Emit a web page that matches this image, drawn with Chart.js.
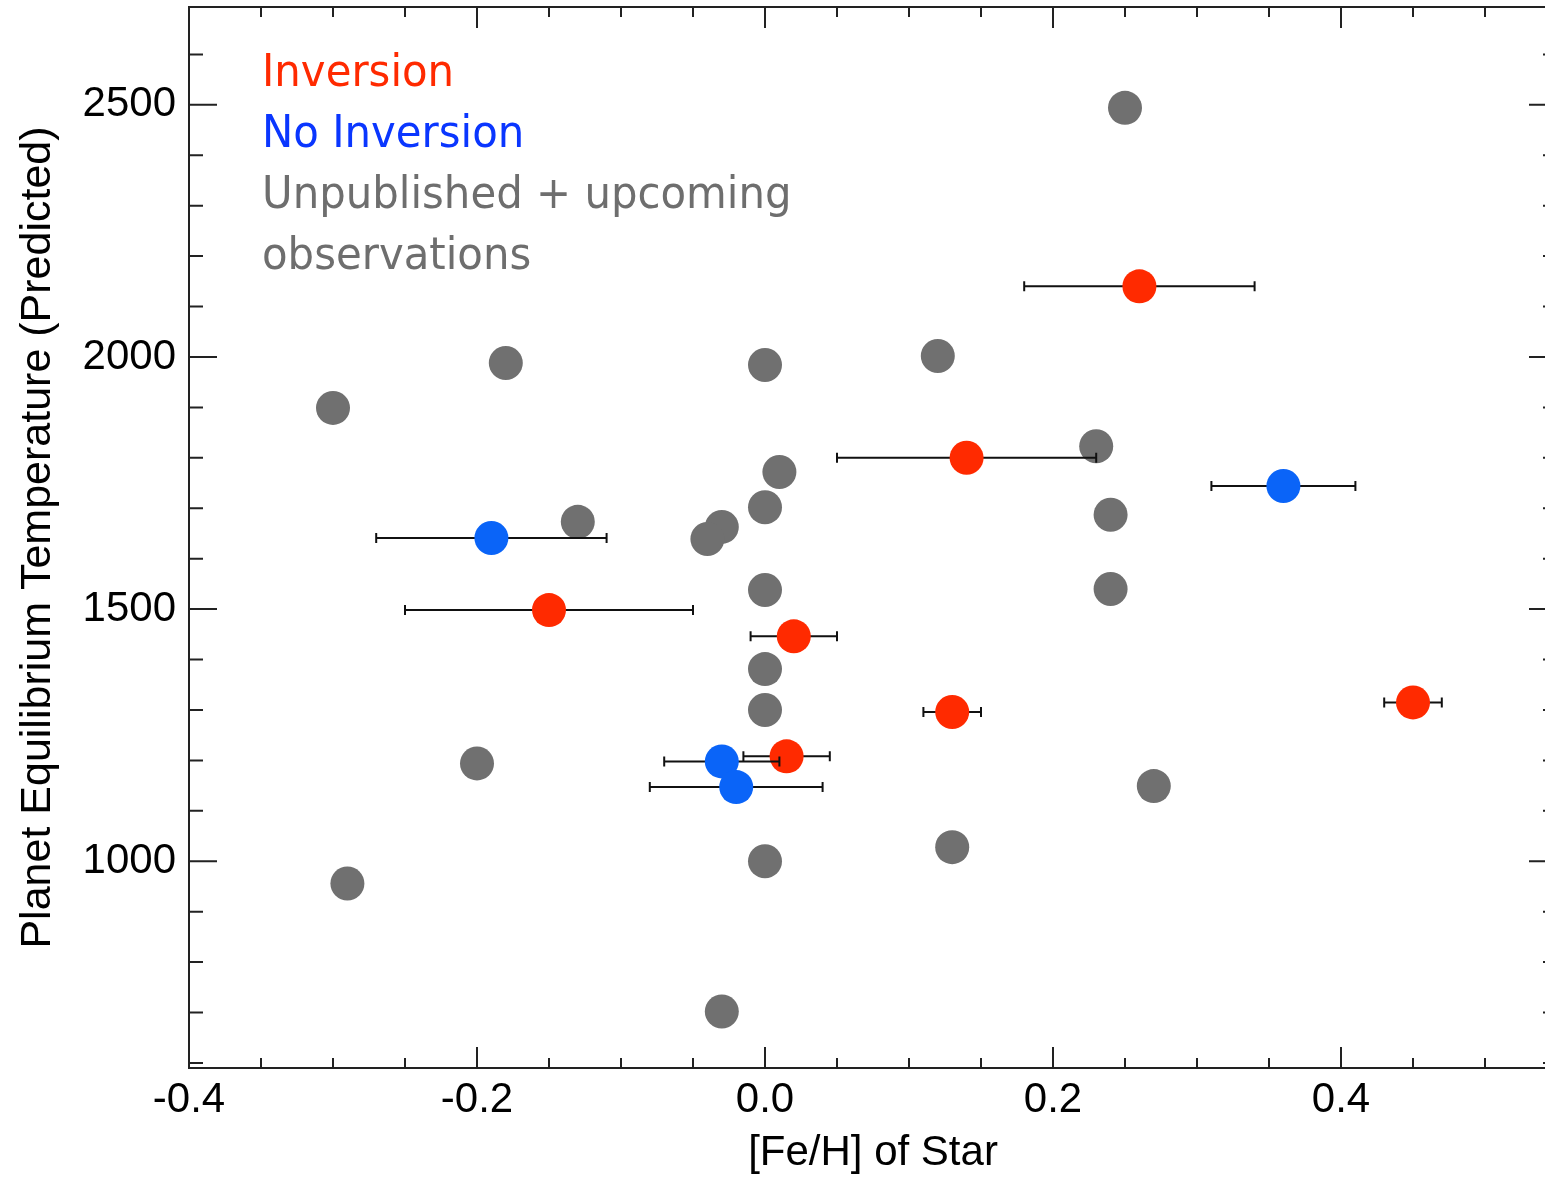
<!DOCTYPE html>
<html>
<head>
<meta charset="utf-8">
<script src="https://cdn.jsdelivr.net/npm/chart.js@4.4.0/dist/chart.umd.min.js"></script>
<style>
  html, body { margin: 0; padding: 0; background: #fff; overflow: hidden; }
  #view { width: 1545px; height: 1179px; overflow: hidden; position: relative; }
  #mainContainer { width: 1562px; height: 1179px; position: absolute; left: 0; top: 0; }
</style>
</head>
<body>
<div id="view"><div id="mainContainer"><canvas id="myChart"></canvas></div></div>
<script>
// planets still waiting on published / upcoming observations
const otherFeH = [0.25, -0.18, 0.0, 0.12, -0.30, 0.23, 0.01, 0.0, -0.13, -0.03, -0.04, 0.24, 0.0, 0.24, 0.0, 0.0, -0.20, 0.27, 0.13, 0.0, -0.29, -0.03];
const otherTeq = [2494, 1988, 1984, 2002, 1899, 1823, 1772, 1702, 1673, 1663, 1639, 1687, 1538, 1540, 1381, 1300, 1194, 1149, 1028, 1000, 956, 702];

// thermal inversion detected
const invFeH = [0.26, 0.14, -0.15, 0.02, 0.13, 0.015, 0.45];
const invTeq = [2140, 1800, 1498, 1446, 1296, 1208, 1315];
const invErr = [0.08, 0.09, 0.10, 0.03, 0.02, 0.03, 0.02];

// no inversion
const noInvFeH = [0.36, -0.19, -0.03, -0.02];
const noInvTeq = [1744, 1641, 1198, 1147];
const noInvErr = [0.05, 0.08, 0.04, 0.06];

const xMajor = [-0.4, -0.2, 0.0, 0.2, 0.4];
const xMinor = [-0.35, -0.3, -0.25, -0.15, -0.1, -0.05, 0.05, 0.1, 0.15, 0.25, 0.3, 0.35, 0.45, 0.5];
const yMajor = [1000, 1500, 2000, 2500];
const yMinor = [600, 700, 800, 900, 1100, 1200, 1300, 1400, 1600, 1700, 1800, 1900, 2100, 2200, 2300, 2400, 2600];

const legendLines = [
    ['Inversion', '#ff2a00'],
    ['No Inversion', '#0a36ff'],
    ['Unpublished + upcoming', '#6e6e6e'],
    ['observations', '#6e6e6e']
];

const FONT = "'Liberation Sans', Arial, Helvetica, sans-serif";

function toPoints(xs, ys) {
    return xs.map((v, i) => ({x: v, y: ys[i]}));
}

// horizontal error bars, drawn just before the dataset's own circles
const errorBars = {
    id: 'errorBars',
    beforeDatasetDraw(chart, args) {
        const ds = chart.data.datasets[args.index];
        if (!ds.xErr) return;
        const {ctx, scales: {x, y}} = chart;
        ctx.save();
        ctx.strokeStyle = '#111';
        ctx.lineWidth = 2;
        ds.data.forEach((p, i) => {
            const x0 = x.getPixelForValue(p.x - ds.xErr[i]);
            const x1 = x.getPixelForValue(p.x + ds.xErr[i]);
            const py = y.getPixelForValue(p.y);
            ctx.beginPath();
            ctx.moveTo(x0, py); ctx.lineTo(x1, py);
            ctx.moveTo(x0, py - 5); ctx.lineTo(x0, py + 5);
            ctx.moveTo(x1, py - 5); ctx.lineTo(x1, py + 5);
            ctx.stroke();
        });
        ctx.restore();
    }
};

// box with inward ticks on all four sides
const frameTicks = {
    id: 'frameTicks',
    afterDraw(chart) {
        const {ctx, chartArea: a, scales: {x, y}} = chart;
        ctx.save();
        ctx.strokeStyle = '#222';
        ctx.lineWidth = 2;
        ctx.beginPath();
        ctx.rect(a.left, a.top, a.right - a.left, a.bottom - a.top);
        const xt = (v, len) => {
            const px = x.getPixelForValue(v);
            ctx.moveTo(px, a.bottom); ctx.lineTo(px, a.bottom - len);
            ctx.moveTo(px, a.top); ctx.lineTo(px, a.top + len);
        };
        const yt = (v, len) => {
            const py = y.getPixelForValue(v);
            ctx.moveTo(a.left, py); ctx.lineTo(a.left + len, py);
            ctx.moveTo(a.right, py); ctx.lineTo(a.right - len, py);
        };
        xMajor.forEach(v => xt(v, 21));
        xMinor.forEach(v => xt(v, 10));
        yMajor.forEach(v => yt(v, 28));
        yMinor.forEach(v => yt(v, 14));
        ctx.stroke();
        ctx.restore();
    }
};

// coloured key text in the upper left, slightly narrowed
const colorText = {
    id: 'colorText',
    afterDraw(chart) {
        const ctx = chart.ctx;
        ctx.save();
        ctx.font = "45px 'DejaVu Sans', Verdana, sans-serif";
        ctx.textBaseline = 'alphabetic';
        ctx.textAlign = 'left';
        ctx.translate(262, 0);
        ctx.scale(0.93, 1);
        legendLines.forEach((l, i) => {
            ctx.fillStyle = l[1];
            ctx.fillText(l[0], 0, 86 + i * 61);
        });
        ctx.restore();
    }
};

const ctx = document.getElementById('myChart').getContext('2d');
const chartCfg = {
    type: 'scatter',
    data: {
        datasets: [{
            label: 'Unpublished + upcoming observations',
            data: toPoints(otherFeH, otherTeq),
            backgroundColor: '#707070',
            order: 2
        }, {
            label: 'Inversion',
            data: toPoints(invFeH, invTeq),
            xErr: invErr,
            backgroundColor: '#ff2a00',
            order: 1
        }, {
            label: 'No Inversion',
            data: toPoints(noInvFeH, noInvTeq),
            xErr: noInvErr,
            backgroundColor: '#0a64f8',
            order: 0
        }]
    },
    options: {
        responsive: true,
        maintainAspectRatio: false,
        animation: false,
        events: [],
        elements: {
            point: {radius: 17, hoverRadius: 17, borderWidth: 0}
        },
        layout: {
            autoPadding: false,
            padding: {top: 7, right: 5, left: 0, bottom: 0}
        },
        plugins: {
            legend: {display: false},
            tooltip: {enabled: false}
        },
        scales: {
            x: {
                type: 'linear',
                min: -0.4,
                max: 0.55,
                grid: {display: false, drawTicks: false},
                border: {display: false},
                afterBuildTicks: (s) => { s.ticks = xMajor.map(v => ({value: v})); },
                afterFit: (s) => {
                    s.height = 111;
                    s.paddingLeft = 0;
                    s.paddingRight = 0;
                },
                ticks: {
                    color: '#000',
                    padding: 7,
                    maxRotation: 0,
                    font: {family: FONT, size: 42, lineHeight: 1.2},
                    callback: (v) => v.toFixed(1)
                },
                title: {
                    display: true,
                    text: '[Fe/H] of Star',
                    color: '#000',
                    padding: {top: 0, bottom: 0},
                    font: {family: FONT, size: 42, lineHeight: 1.2}
                }
            },
            y: {
                type: 'linear',
                min: 590,
                max: 2694,
                grid: {display: false, drawTicks: false},
                border: {display: false},
                afterBuildTicks: (s) => { s.ticks = yMajor.map(v => ({value: v})); },
                afterFit: (s) => {
                    s.width = 189;
                    s.paddingTop = 0;
                    s.paddingBottom = 0;
                },
                ticks: {
                    color: '#000',
                    padding: 13,
                    font: {family: FONT, size: 42, lineHeight: 1.2},
                    callback: (v) => String(v)
                },
                title: {
                    display: true,
                    text: 'Planet Equilibrium Temperature (Predicted)',
                    color: '#000',
                    padding: {top: 12, bottom: 0},
                    font: {family: FONT, size: 43, lineHeight: 1.2}
                }
            }
        }
    },
    plugins: [errorBars, frameTicks, colorText]
};

const myChart = new Chart(ctx, chartCfg);
</script>
</body>
</html>
